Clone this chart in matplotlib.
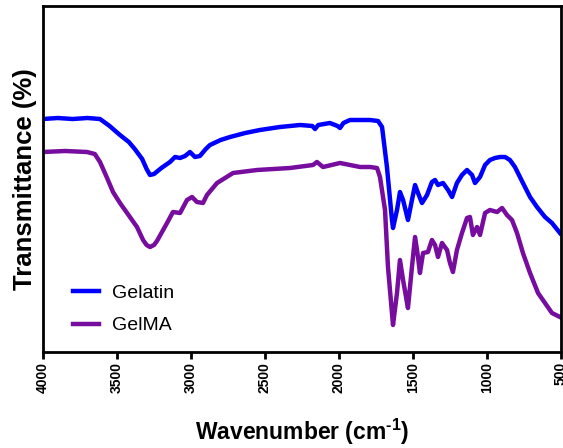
import numpy as np
import matplotlib
matplotlib.use("Agg")
import matplotlib.pyplot as plt

plt.rcParams['font.family'] = ['Liberation Sans', 'DejaVu Sans']
plt.rcParams['mathtext.fontset'] = 'custom'
plt.rcParams['mathtext.rm'] = 'Liberation Sans:bold'
plt.rcParams['mathtext.bf'] = 'Liberation Sans:bold'

# FTIR spectra (wavenumber in cm-1, transmittance in arb. units)
gelatin_wn = [4000, 3900, 3800, 3700, 3615, 3550, 3480, 3420, 3380, 3330, 3300, 3277,
              3250, 3200, 3142, 3108, 3074, 3040, 3007, 2973, 2940, 2900, 2872, 2800,
              2736, 2634, 2534, 2399, 2263, 2180, 2162, 2140, 2061, 2010, 1993, 1970,
              1926, 1790, 1736, 1709, 1676, 1642, 1635, 1608, 1588, 1567, 1534, 1507,
              1486, 1466, 1439, 1405, 1372, 1351, 1331, 1297, 1263, 1236, 1203, 1169,
              1135, 1101, 1081, 1047, 1013, 980, 946, 912, 878, 845, 811, 757, 709,
              662, 608, 561, 507]
gelatin_t = [233, 234, 233, 234, 233, 226, 217, 210, 203, 193, 183, 177,
             178, 184, 190, 195, 194, 196, 200, 195, 196, 203, 207, 212,
             215, 219, 222, 225, 227, 226, 223, 227, 229, 226, 224, 229,
             232, 232, 231, 225, 185, 132, 124, 142, 160, 152, 132, 152,
             167, 159, 149, 157, 170, 172, 167, 169, 162, 155, 169, 177,
             182, 177, 169, 175, 187, 192, 194, 195, 195, 192, 185, 169, 155,
             145, 135, 129, 119]

gelma_wn = [4000, 3850, 3703, 3650, 3615, 3570, 3527, 3480, 3432, 3365, 3324, 3300,
            3277, 3250, 3230, 3162, 3122, 3074, 3027, 2993, 2960, 2919, 2892, 2824,
            2716, 2554, 2331, 2176, 2149, 2108, 1993, 1858, 1790, 1743, 1723, 1689,
            1669, 1642, 1635, 1608, 1588, 1567, 1540, 1534, 1507, 1486, 1466, 1453,
            1432, 1399, 1372, 1351, 1331, 1304, 1270, 1250, 1230, 1203, 1169, 1135,
            1115, 1095, 1067, 1047, 1013, 980, 932, 898, 865, 831, 797, 757, 709,
            655, 608, 561, 507]
gelma_t = [200, 201, 200, 198, 190, 175, 160, 149, 139, 125, 112, 107,
           105, 107, 111, 129, 140, 139, 152, 155, 150, 149, 157, 169,
           179, 182, 184, 187, 190, 185, 189, 185, 185, 184, 175, 142,
           85, 39, 27, 59, 92, 72, 49, 44, 85, 115, 95, 79,
           99, 100, 112, 107, 95, 109, 102, 89, 80, 102, 119, 134,
           135, 117, 125, 117, 139, 142, 140, 144, 137, 132, 119, 99, 79,
           59, 49, 39, 35]

fig = plt.figure(figsize=(5.63, 4.48), dpi=100)
ax = fig.add_axes([0.0764, 0.2143, 0.92, 0.7723])

ax.plot(gelatin_wn, gelatin_t, color='#0000ff', lw=3.2, label='Gelatin',
        solid_joinstyle='round')
ax.plot(gelma_wn, gelma_t, color='#770d9e', lw=3.2, label='GelMA',
        solid_joinstyle='round')

ax.set_xlim(4000, 500)
ax.set_ylim(0, 346)
ax.set_xticks(np.arange(4000, 499, -500))
ax.set_yticks([])
for lbl in ax.get_xticklabels():
    lbl.set_rotation(90)
    lbl.set_fontweight('bold')
    lbl.set_fontsize(10)
for s in ax.spines.values():
    s.set_linewidth(2)
ax.tick_params(axis='x', width=2, length=5, pad=2)

ax.set_xlabel(r'Wavenumber (cm$^{\text{-}1}$)', fontsize=16.5, fontweight='bold',
              labelpad=17)
ax.set_ylabel('Transmittance (%)', fontsize=18.5, fontweight='bold', labelpad=4)

ax.legend(loc='lower left', bbox_to_anchor=(0.025, 0.0), frameon=False,
          fontsize=14, handlelength=1.3, labelspacing=0.75, handletextpad=0.7)

fig.savefig('out.png', dpi=100)
